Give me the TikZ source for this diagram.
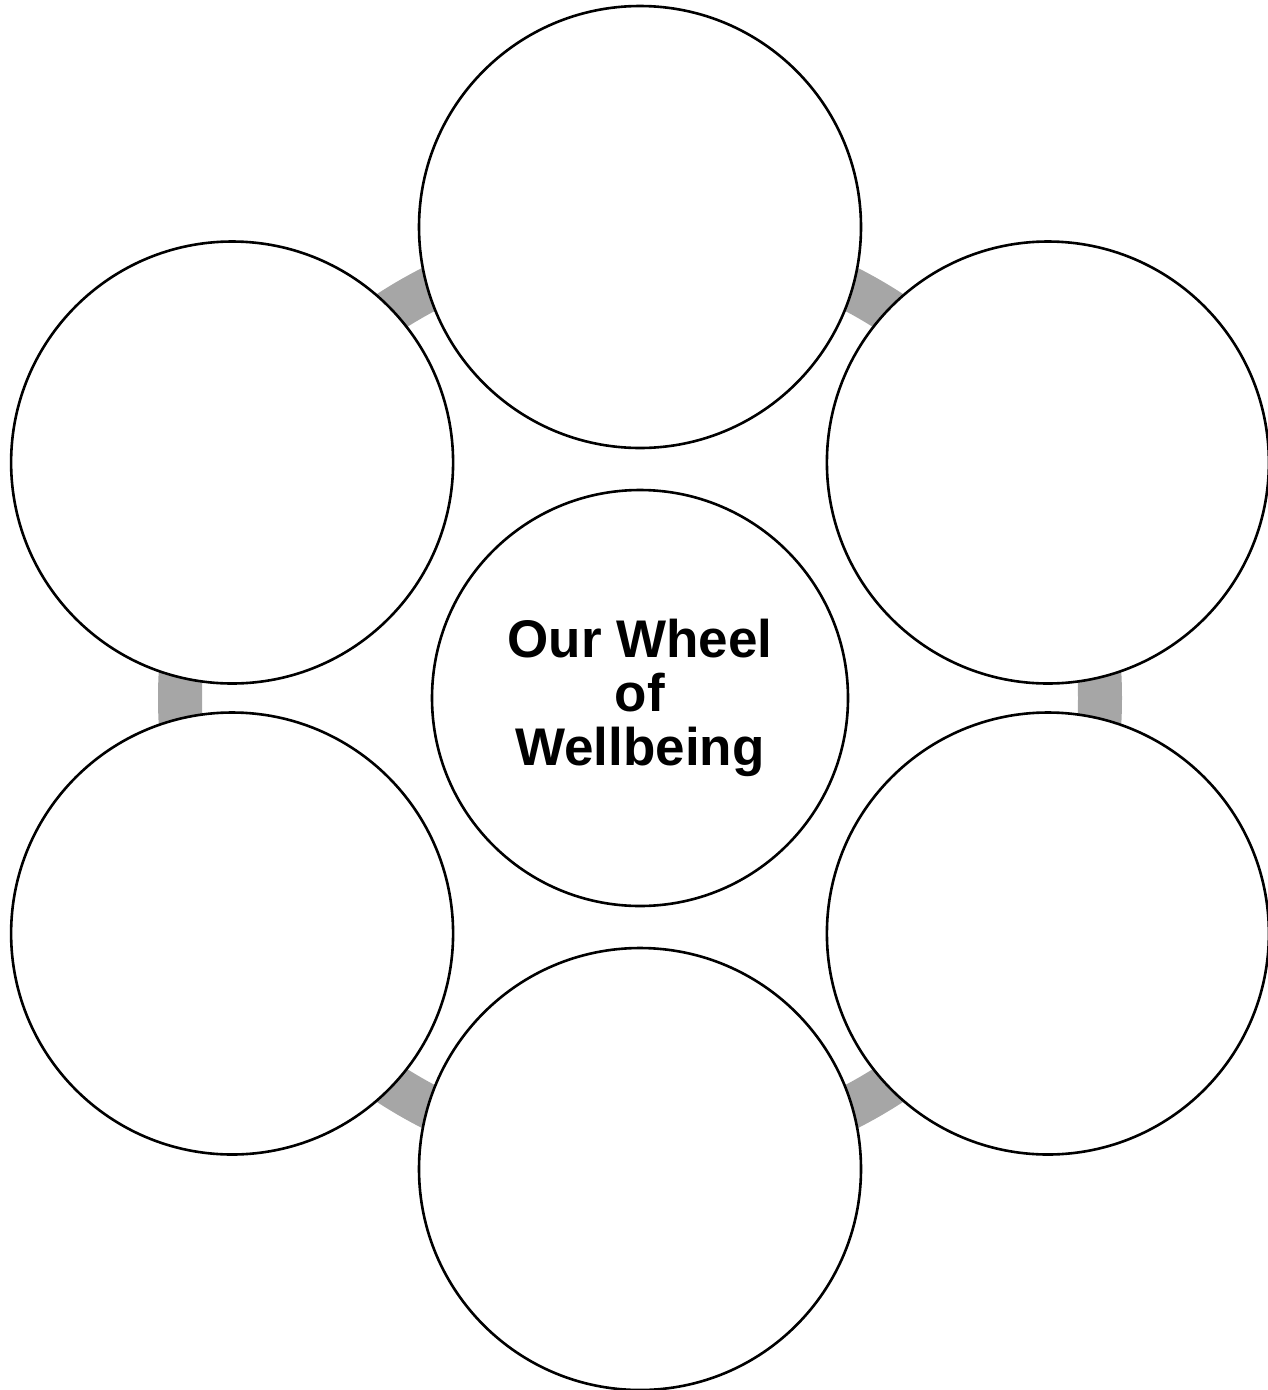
\documentclass[tikz,border=0pt]{standalone}
\usepackage{fontspec}
\setmainfont{Liberation Sans}
\usetikzlibrary{calc}
\definecolor{ringgray}{RGB}{166,166,166}
\begin{document}
\begin{tikzpicture}[x=1pt,y=1pt,
  outer/.style={circle, draw=black, line width=2.6pt, fill=white, minimum size=442pt, inner sep=0pt},
  hub/.style={circle, draw=black, line width=2.6pt, fill=white, minimum size=416pt, inner sep=0pt,
    align=center, font=\bfseries\fontsize{53}{54}\selectfont},
  ring/.style={draw=ringgray, line width=44pt}]
\useasboundingbox (0,0) rectangle (1267,-1390);
\coordinate (c) at (640,-698);
\draw[ring] (c) circle (460);
\node[outer] (top) at ($(c)+(90:471)$) {};
\node[outer] (ur) at ($(c)+(30:471)$) {};
\node[outer] (lr) at ($(c)+(-30:471)$) {};
\node[outer] (bot) at ($(c)+(-90:471)$) {};
\node[outer] (ll) at ($(c)+(-150:471)$) {};
\node[outer] (ul) at ($(c)+(150:471)$) {};
\node[hub] (hub) at (c) {Our Wheel\\of\\Wellbeing};
\end{tikzpicture}
\end{document}
